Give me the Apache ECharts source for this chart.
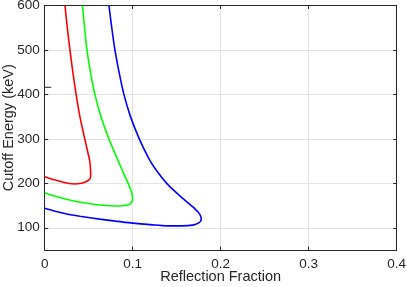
<!DOCTYPE html>
<html>
<head>
<meta charset="utf-8">
<script src="https://cdn.jsdelivr.net/npm/echarts@6/dist/echarts.min.js"></script>
<style>
html,body{margin:0;padding:0;background:#fff;}
#c{width:407px;height:287px;}
</style>
</head>
<body>
<div id="c"></div>
<script>
var xTicks = [0, 0.1, 0.2, 0.3, 0.4];
var yTicks = [100, 200, 300, 400, 500, 600];

var redCurve = [[0.0230,600],[0.0257,550],[0.0287,500],[0.0320,450],[0.0357,400],[0.0400,350],[0.0455,300],[0.0490,270],[0.0512,250],[0.0521,230],[0.0522,215],[0.0500,207],[0.0455,202.5],[0.0400,199.5],[0.0340,198.5],[0.0280,199.5],[0.0210,202.5],[0.0100,208.5],[0,215]];
var greenCurve = [[0.043,600],[0.0453,550],[0.0480,500],[0.0520,450],[0.0570,400],[0.0640,350],[0.0730,300],[0.0815,260],[0.0880,230],[0.0925,210],[0.0970,190],[0.0990,178],[0.0998,168],[0.0994,160],[0.0975,154.5],[0.0935,151],[0.088,149.5],[0.080,149],[0.070,150],[0.055,153],[0.036,159],[0.017,168],[0,179]];
var blueCurve = [[0.073,600],[0.0762,550],[0.0798,500],[0.0845,450],[0.0900,400],[0.0975,350],[0.1075,300],[0.1200,250],[0.1300,221],[0.1400,197],[0.1530,173],[0.1665,150],[0.1745,135],[0.1775,125],[0.1778,118],[0.1750,111],[0.1680,106],[0.1560,104.2],[0.1400,104.3],[0.1200,107],[0.1000,110.5],[0.0800,115],[0.0626,119.5],[0.0400,126],[0.0250,131],[0.0120,137],[0,143.8]];
var strayTick = [[-0.005,416],[0.0075,416]];

var axisColor = '#262626';
var gridColor = '#e3e3e3';
var font = 'Liberation Sans, Arial, Helvetica, sans-serif';

function curve(data, color) {
  return {type:'line', data:data, symbol:'none', smooth:0.3, xAxisIndex:0, yAxisIndex:0,
    lineStyle:{color:color, width:1.6}, z:3};
}

var chart = echarts.init(document.getElementById('c'), null, {renderer:'canvas'});
chart.setOption({
  animation:false,
  backgroundColor:'#fff',
  grid:{left:44.7, right:10.3, top:5.5, bottom:37, containLabel:false, outerBoundsMode:'none'},
  xAxis:[{
    type:'value', min:0, max:0.4, position:'bottom',
    name:'Reflection Fraction', nameLocation:'middle', nameGap:19.5, nameMoveOverlap:false,
    nameTextStyle:{color:axisColor, fontSize:14.5, fontFamily:font},
    axisLine:{show:true, onZero:false, lineStyle:{color:axisColor, width:1}},
    axisTick:{show:true, inside:true, length:3.5, customValues:xTicks, lineStyle:{color:axisColor}},
    axisLabel:{show:true, customValues:xTicks, color:axisColor, fontSize:13.5, fontFamily:font, margin:7,
      formatter:function(v){return String(v);}},
    splitLine:{show:true, lineStyle:{color:gridColor, width:1}}
  },{
    type:'value', min:0, max:0.4, position:'top',
    axisLine:{show:true, onZero:false, lineStyle:{color:axisColor, width:1}},
    axisTick:{show:true, inside:true, length:3.5, customValues:xTicks, lineStyle:{color:axisColor}},
    axisLabel:{show:false},
    splitLine:{show:false}
  }],
  yAxis:[{
    type:'value', min:50, max:600, position:'left',
    name:'Cutoff Energy (keV)', nameLocation:'middle', nameGap:28, nameRotate:90, nameMoveOverlap:false,
    nameTextStyle:{color:axisColor, fontSize:14.5, fontFamily:font},
    axisLine:{show:true, onZero:false, lineStyle:{color:axisColor, width:1}},
    axisTick:{show:true, inside:true, length:3.5, customValues:yTicks, lineStyle:{color:axisColor}},
    axisLabel:{show:true, customValues:yTicks, color:axisColor, fontSize:13.5, fontFamily:font, margin:5},
    splitLine:{show:true, lineStyle:{color:gridColor, width:1}}
  },{
    type:'value', min:50, max:600, position:'right',
    axisLine:{show:true, onZero:false, lineStyle:{color:axisColor, width:1}},
    axisTick:{show:true, inside:true, length:3.5, customValues:yTicks, lineStyle:{color:axisColor}},
    axisLabel:{show:false},
    splitLine:{show:false}
  }],
  series:[
    curve(redCurve, '#ff0000'),
    curve(greenCurve, '#00ff00'),
    curve(blueCurve, '#0000ff'),
    {type:'line', data:strayTick, symbol:'none', clip:false, silent:true,
      lineStyle:{color:axisColor, width:1}, z:5}
  ]
});
</script>
</body>
</html>
